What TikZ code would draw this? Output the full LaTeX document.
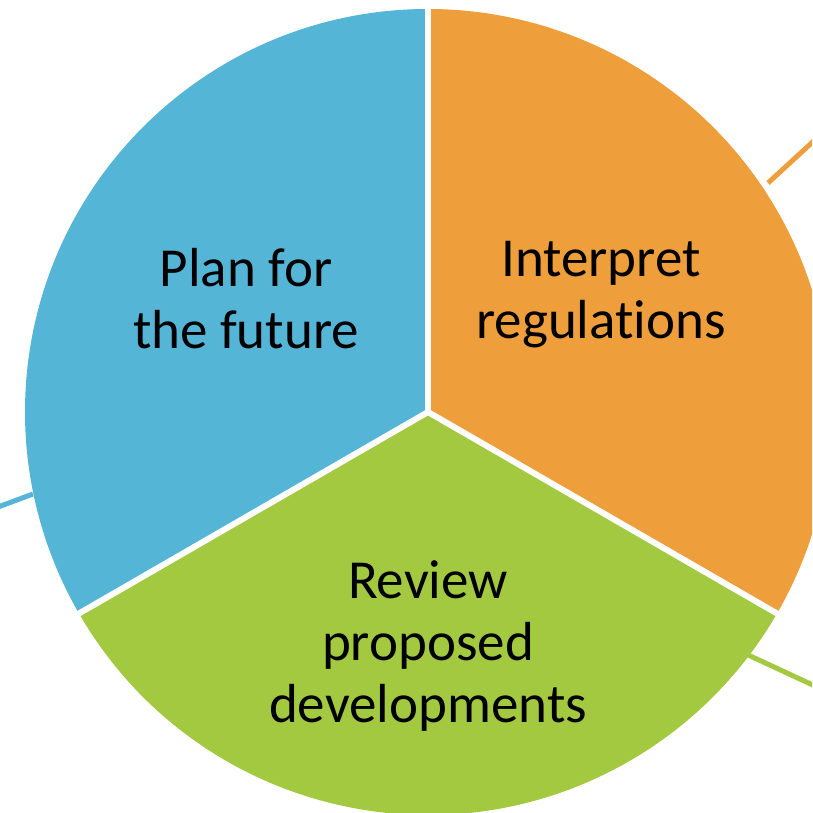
\documentclass[tikz,border=0pt]{standalone}
\usepackage{fontspec}
\setmainfont[RawFeature=-liga]{Carlito}
\definecolor{pieblue}{RGB}{84,181,214}
\definecolor{pieorange}{RGB}{238,159,59}
\definecolor{piegreen}{RGB}{163,201,64}
\begin{document}
\begin{tikzpicture}[x=1pt,y=1pt,
  label/.style={align=center,font=\fontsize{55}{62}\selectfont,text=black,inner sep=0pt},
  sep/.style={draw=white,line width=6pt},
  leader/.style={line width=5pt}]
\useasboundingbox (0,0) rectangle (812,813);
\clip (0,0) rectangle (812,813);
\coordinate (c) at (428,401);
\def\R{403}
% leader lines
\coordinate (ob) at (768,630); \coordinate (oe) at (830,687);
\coordinate (bb) at (33,319); \coordinate (be) at (-10,303);
\coordinate (gb) at (746,159); \coordinate (ge) at (830,120);
\draw[leader,pieorange] (ob) -- (oe);
\draw[leader,pieblue] (bb) -- (be);
\draw[leader,piegreen] (gb) -- (ge);
% sectors
\fill[pieblue] (c) -- ++(90:\R) arc[start angle=90,end angle=210,radius=\R] -- cycle;
\fill[piegreen] (c) -- ++(210:\R) arc[start angle=210,end angle=330,radius=\R] -- cycle;
\fill[pieorange] (c) -- ++(330:\R) arc[start angle=330,end angle=450,radius=\R] -- cycle;
% separators
\draw[sep] (c) -- ++(90:\R+5);
\draw[sep] (c) -- ++(210:\R+5);
\draw[sep] (c) -- ++(330:\R+5);
% labels
\node[label] (plan) at (246,514) {Plan for\\the future};
\node[label] (interp) at (601,518) {Interpret\\regulations};
\node[label] (review) at (428,167) {Review\\proposed\\developments};
\end{tikzpicture}
\end{document}
